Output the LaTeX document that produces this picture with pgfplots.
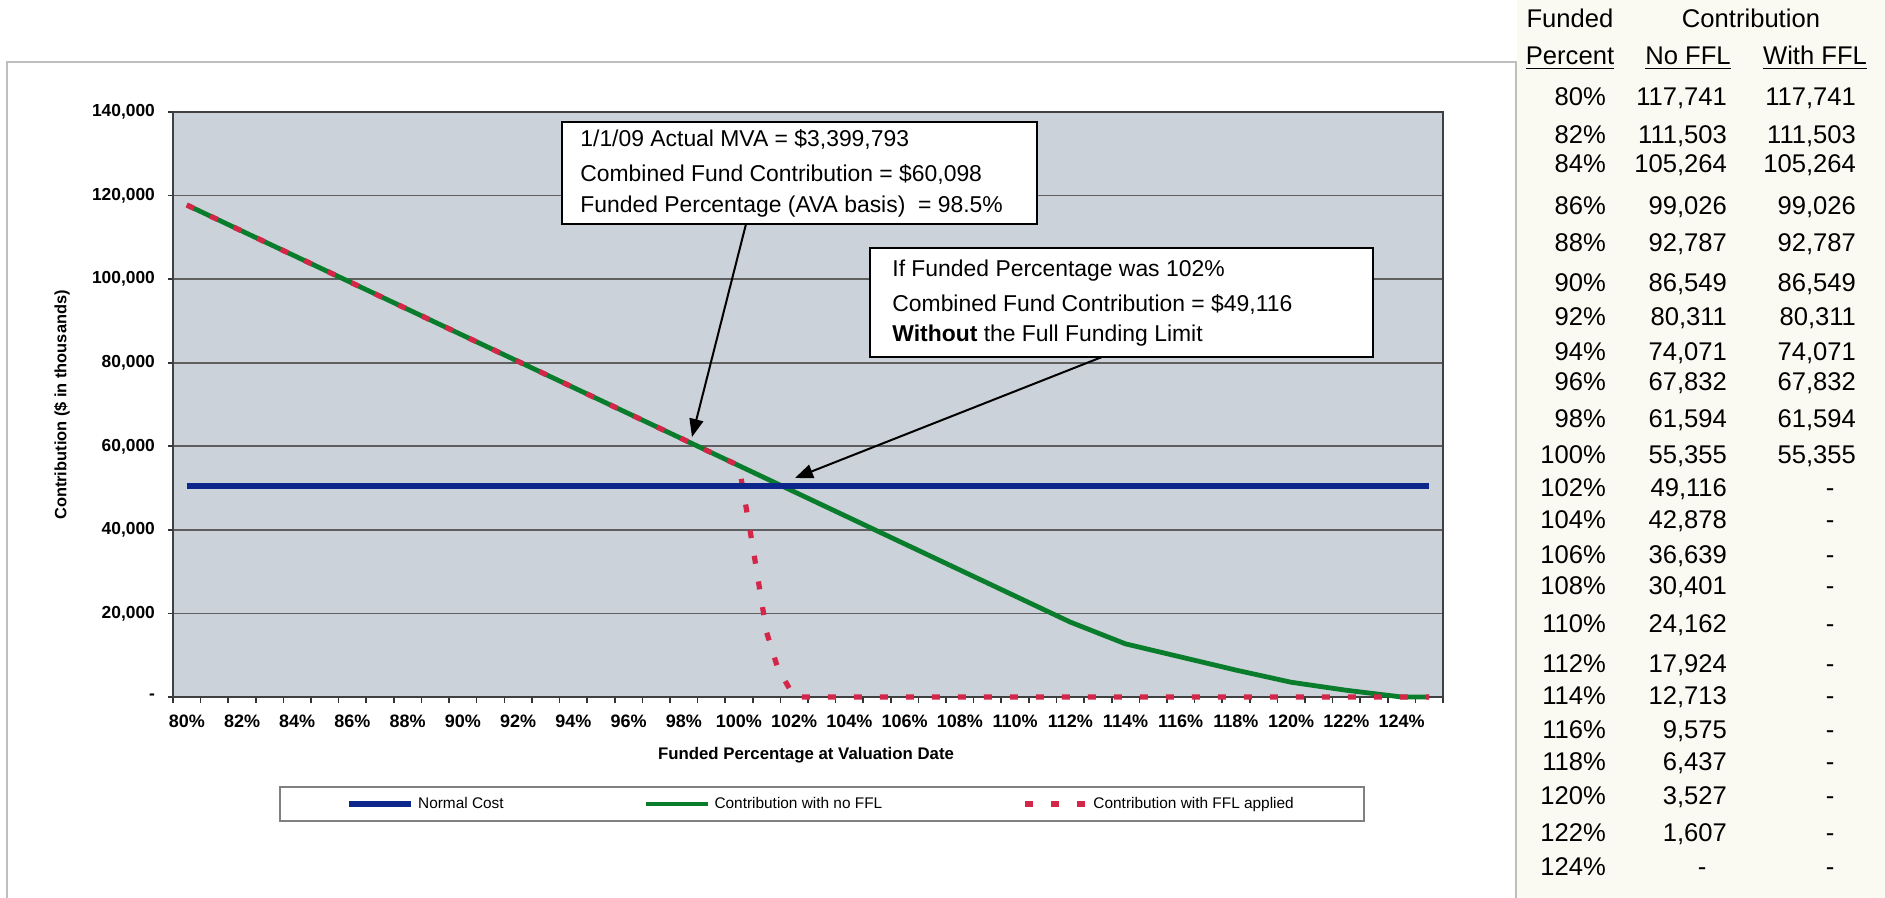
\documentclass[border=0pt]{standalone}
\usepackage{fontspec}
\setmainfont{Liberation Sans}
\usepackage{pgfplots}
\pgfplotsset{compat=1.18}
\usetikzlibrary{arrows.meta}
\definecolor{plotbg}{RGB}{204,210,217}
\definecolor{ncblue}{RGB}{12,38,140}
\definecolor{nfgreen}{RGB}{10,125,45}
\definecolor{fflred}{RGB}{212,38,72}
\definecolor{gridgray}{RGB}{95,95,95}
\definecolor{tablebg}{RGB}{250,250,242}
\definecolor{framegray}{RGB}{190,190,190}
\newcommand\row[4]{%
  \node[anchor=base east] at (1613,#4) {#1\%};
  \node[anchor=base east] at (1734,#4) {#2};
  \node[anchor=base east] at (1863,#4) {#3};}
\newcommand\rowd[3]{%
  \node[anchor=base east] at (1613,#3) {#1\%};
  \node[anchor=base east] at (1734,#3) {#2};
  \node[anchor=base] at (1830,#3) {-};}
\begin{document}
\begin{tikzpicture}
\useasboundingbox (0,0) rectangle (942.5pt,449pt);
\begin{scope}[x=0.5pt,y=-0.5pt,shift={(0pt,449pt)}]
  \fill[white] (0,0) rectangle (1885,898);
  \fill[tablebg] (1517,0) rectangle (1885,898);
  \draw[framegray, line width=1pt] (7,898) -- (7,62) -- (1516,62) -- (1516,898);
\end{scope}
\begin{axis}[
  at={(86.5pt,100.5pt)}, anchor=south west,
  scale only axis, width=635pt, height=292.5pt,
  xmin=79.5, xmax=125.5, ymin=0, ymax=140000,
  clip=false,
  scaled y ticks=false,
  axis background/.style={fill=plotbg},
  axis line style={black!75, line width=1pt},
  xtick pos=bottom, ytick pos=left,
  xtick={80,82,84,86,88,90,92,94,96,98,100,102,104,106,108,110,112,114,116,118,120,122,124},
  xticklabels={80\%,82\%,84\%,86\%,88\%,90\%,92\%,94\%,96\%,98\%,100\%,102\%,104\%,106\%,108\%,110\%,112\%,114\%,116\%,118\%,120\%,122\%,124\%},
  minor xtick={79.5,80.5,81.5,82.5,83.5,84.5,85.5,86.5,87.5,88.5,89.5,90.5,91.5,92.5,93.5,94.5,95.5,96.5,97.5,98.5,99.5,100.5,101.5,102.5,103.5,104.5,105.5,106.5,107.5,108.5,109.5,110.5,111.5,112.5,113.5,114.5,115.5,116.5,117.5,118.5,119.5,120.5,121.5,122.5,123.5,124.5,125.5},
  major x tick style={draw=none},
  tick align=outside, minor tick length=3pt, major tick length=2.5pt,
  tick style={black!80, line width=0.8pt},
  ytick={0,20000,40000,60000,80000,100000,120000,140000},
  yticklabels={{-\hspace{10pt}},{20,000},{40,000},{60,000},{80,000},{100,000},{120,000},{140,000}},
  ymajorgrids, grid style={gridgray, line width=0.9pt},
  xticklabel style={font=\bfseries\fontsize{9}{10}\selectfont, yshift=-3pt},
  yticklabel style={font=\bfseries\fontsize{8.7}{10}\selectfont, xshift=-3pt},
  legend columns=3,
  legend style={at={(0.511,-0.183)}, anchor=center, draw=gray, line width=0.8pt, fill=white,
    font=\fontsize{7.7}{9}\selectfont, inner xsep=33pt, inner ysep=3pt,
    /tikz/every even column/.append style={column sep=68pt},
    /tikz/every odd column/.append style={column sep=0pt}},
  legend cell align=left,
  legend image code/.code={\draw[#1] (0pt,0pt) -- (31pt,0pt);},
]
\addplot[ncblue, line width=3pt] coordinates {(80,50500) (125,50500)};
\addlegendentry{Normal Cost}
\addplot[nfgreen, line width=2.4pt] coordinates {
 (80,117741) (82,111503) (84,105264) (86,99026) (88,92787) (90,86549)
 (92,80311) (94,74071) (96,67832) (98,61594) (100,55355) (102,49116)
 (104,42878) (106,36639) (108,30401) (110,24162) (112,17924) (114,12713)
 (116,9575) (118,6437) (120,3527) (122,1607) (124,0) (125,0)};
\addlegendentry{Contribution with no FFL}
\addplot[fflred, line width=2.6pt, dash pattern=on 4pt off 9pt] coordinates {
 (80,117741) (82,111503) (84,105264) (86,99026) (88,92787) (90,86549)
 (92,80311) (94,74071) (96,67832) (98,61594) (100,55355)
 (100.5,36000) (101,15500) (101.4,7000) (102,0)
 (104,0) (106,0) (108,0) (110,0) (112,0) (114,0) (116,0) (118,0)
 (120,0) (122,0) (124,0) (125,0)};
\addlegendentry{Contribution with FFL applied}
\addplot[ncblue, line width=3pt, forget plot] coordinates {(80,50500) (125,50500)};
\end{axis}
\begin{scope}[x=0.5pt,y=-0.5pt,shift={(0pt,449pt)}]
  % axis titles
  \node[rotate=90, font=\bfseries\fontsize{8.2}{10}\selectfont] at (62,405) {Contribution (\$ in thousands)};
  \node[font=\bfseries\fontsize{8.4}{10}\selectfont] at (806,755) {Funded Percentage at Valuation Date};
  % annotation boxes
  \draw[black, line width=1pt, fill=white] (562,122) rectangle (1037,224);
  \begin{scope}[font=\fontsize{11.45}{14}\selectfont]
    \node[anchor=base west, inner sep=0pt] at (580,147) {1/1/09 Actual MVA = \$3,399,793};
    \node[anchor=base west, inner sep=0pt] at (580,182) {Combined Fund Contribution = \$60,098};
    \node[anchor=base west, inner sep=0pt] at (580,213) {Funded Percentage (AVA basis) \ = 98.5\%};
  \end{scope}
  \draw[black, line width=1pt, fill=white] (870,248) rectangle (1373,357);
  \begin{scope}[font=\fontsize{11.45}{14}\selectfont]
    \node[anchor=base west, inner sep=0pt] at (892,277) {If Funded Percentage was 102\%};
    \node[anchor=base west, inner sep=0pt] at (892,312) {Combined Fund Contribution = \$49,116};
    \node[anchor=base west, inner sep=0pt] at (892,342) {\textbf{Without} the Full Funding Limit};
  \end{scope}
  \draw[black, line width=1pt, -{Triangle[length=9pt,width=7pt]}] (746,224) -- (692,437);
  \draw[black, line width=1pt, -{Triangle[length=9pt,width=7pt]}] (1102,357) -- (795,478);
  % table
  \begin{scope}[font=\fontsize{12.8}{15}\selectfont]
    \node[anchor=base] at (1570,28) {Funded};
    \node[anchor=base] at (1751,28) {Contribution};
    \node[anchor=base] at (1570,65) {\underline{Percent}};
    \node[anchor=base] at (1688,65) {\underline{No FFL}};
    \node[anchor=base] at (1815,65) {\underline{With FFL}};
    \row{80}{117,741}{117,741}{106}
    \row{82}{111,503}{111,503}{144}
    \row{84}{105,264}{105,264}{173}
    \row{86}{99,026}{99,026}{215}
    \row{88}{92,787}{92,787}{252}
    \row{90}{86,549}{86,549}{292}
    \row{92}{80,311}{80,311}{326}
    \row{94}{74,071}{74,071}{361}
    \row{96}{67,832}{67,832}{391}
    \row{98}{61,594}{61,594}{428}
    \row{100}{55,355}{55,355}{464}
    \rowd{102}{49,116}{497}
    \rowd{104}{42,878}{529}
    \rowd{106}{36,639}{564}
    \rowd{108}{30,401}{595}
    \rowd{110}{24,162}{633}
    \rowd{112}{17,924}{673}
    \rowd{114}{12,713}{705}
    \rowd{116}{9,575}{739}
    \rowd{118}{6,437}{771}
    \rowd{120}{3,527}{805}
    \rowd{122}{1,607}{842}
    \node[anchor=base east] at (1613,876) {124\%};
    \node[anchor=base] at (1702,876) {-};
    \node[anchor=base] at (1830,876) {-};
  \end{scope}
\end{scope}
\end{tikzpicture}
\end{document}
